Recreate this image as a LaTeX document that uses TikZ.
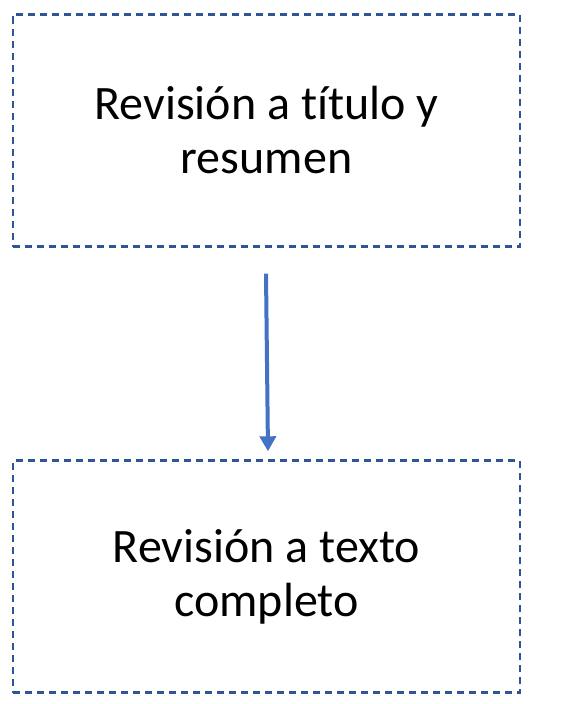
\documentclass[tikz,border=0pt]{standalone}
\usepackage{fontspec}
\setmainfont[Ligatures=NoCommon]{Carlito}
\usetikzlibrary{arrows.meta}
\definecolor{dashblue}{HTML}{2F5597}
\definecolor{arrowblue}{HTML}{4472C4}
\tikzstyle{etapa} = [rectangle, minimum width=507pt, minimum height=232pt, align=center, draw=dashblue, line width=2.4pt, dash pattern=on 7pt off 5pt, font=\fontsize{48}{54}\selectfont, inner sep=0pt]
\tikzstyle{flecha} = [arrowblue, line width=4pt, -{Triangle[length=15pt,width=16pt]}]
\begin{document}
\begin{tikzpicture}[x=1pt,y=-1pt]
\useasboundingbox (0,0) rectangle (568,704);
\node[etapa] (titulo) at (266.5,130.5) {Revisión a título y\\resumen};
\node[etapa] (texto) at (266.5,576.5) {Revisión a texto\\completo};
\draw[flecha] ([xshift=-0.5pt,yshift=-26pt]titulo.south) -- ([xshift=1.5pt,yshift=8pt]texto.north);
\end{tikzpicture}
\end{document}
